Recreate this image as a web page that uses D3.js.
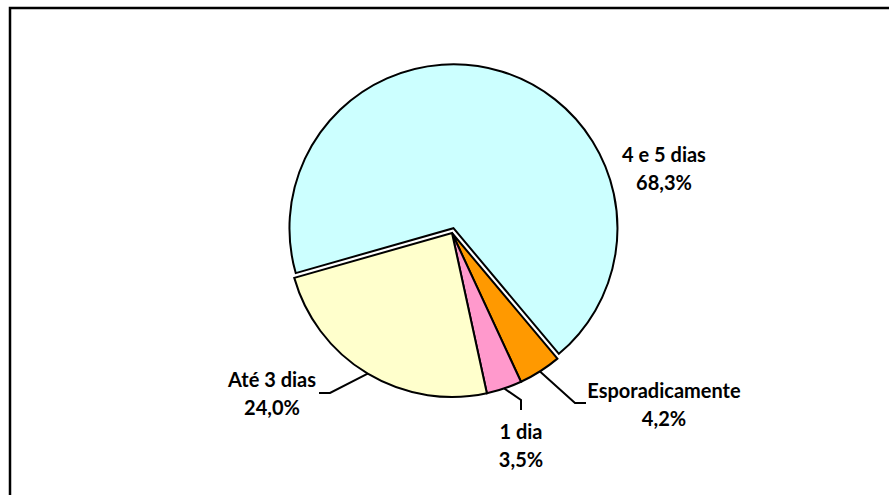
<!DOCTYPE html>
<html><head><meta charset="utf-8">
<script src="https://cdn.jsdelivr.net/npm/d3@7/dist/d3.min.js"></script>
<style>
html,body{margin:0;padding:0;background:#fff;}
svg{display:block;}
text{font-family:Lato,"Open Sans",sans-serif;font-weight:bold;fill:#000;}
</style></head>
<body>
<script>
const categories = ["Esporadicamente", "1 dia", "Até 3 dias", "4 e 5 dias"];
const values = [4.2, 3.5, 24.0, 68.3];
const valueLabels = ["4,2%", "3,5%", "24,0%", "68,3%"];
const colors = ["#FF9900", "#FF99CC", "#FFFFCC", "#CCFFFF"];

const W = 889, H = 495;
const cx = 452, cy = 233, R = 164;
const startDeg = 140;
const explode = [0, 0, 0, 5];
// label layout: text center, and leader elbow offsets
const labelPos = [
  {x: 664, y: 391, elbow: [575, 403], end: [586, 403]},
  {x: 521, y: 432, elbow: [521, 400], end: [521, 410]},
  {x: 272, y: 380, elbow: [330, 393], end: [319, 393]},
  {x: 664, y: 155, elbow: null, end: null}
];

const svg = d3.select("body").append("svg").attr("width", W).attr("height", H);
svg.append("rect").attr("width", W).attr("height", H).attr("fill", "#fff");
svg.append("rect").attr("x", 10).attr("y", 8).attr("width", W + 20).attr("height", H + 20)
  .attr("fill", "none").attr("stroke", "#000").attr("stroke-width", 2.5);

const toRad = d => d * Math.PI / 180;
const pie = d3.pie().sort(null).value(d => d)
  .startAngle(toRad(startDeg)).endAngle(toRad(startDeg + 360));
const arcs = pie(values);
const arc = d3.arc().innerRadius(0).outerRadius(R);

const g = svg.append("g").attr("transform", `translate(${cx},${cy})`);
const order = [3, 0, 1, 2];
order.forEach(i => {
  const a = arcs[i];
  const mid = (a.startAngle + a.endAngle) / 2;
  const ox = explode[i] * Math.sin(mid), oy = -explode[i] * Math.cos(mid);
  g.append("path").attr("d", arc(a))
    .attr("transform", `translate(${ox},${oy})`)
    .attr("fill", colors[i]).attr("stroke", "#000").attr("stroke-width", 2)
    .attr("stroke-linejoin", "miter");
});

arcs.forEach((a, i) => {
  const mid = (a.startAngle + a.endAngle) / 2;
  const lp = labelPos[i];
  if (lp.elbow) {
    const sx = cx + R * Math.sin(mid), sy = cy - R * Math.cos(mid);
    svg.append("polyline")
      .attr("points", [[sx, sy], lp.elbow, lp.end].map(p => p.join(",")).join(" "))
      .attr("fill", "none").attr("stroke", "#000").attr("stroke-width", 2);
  }
  const t = svg.append("text").attr("text-anchor", "middle").attr("font-size", 20);
  t.append("tspan").attr("x", lp.x).attr("y", lp.y).attr("dy", "0.35em").text(categories[i]);
  t.append("tspan").attr("x", lp.x).attr("y", lp.y + 28).attr("dy", "0.35em").text(valueLabels[i]);
});
</script>
</body></html>
